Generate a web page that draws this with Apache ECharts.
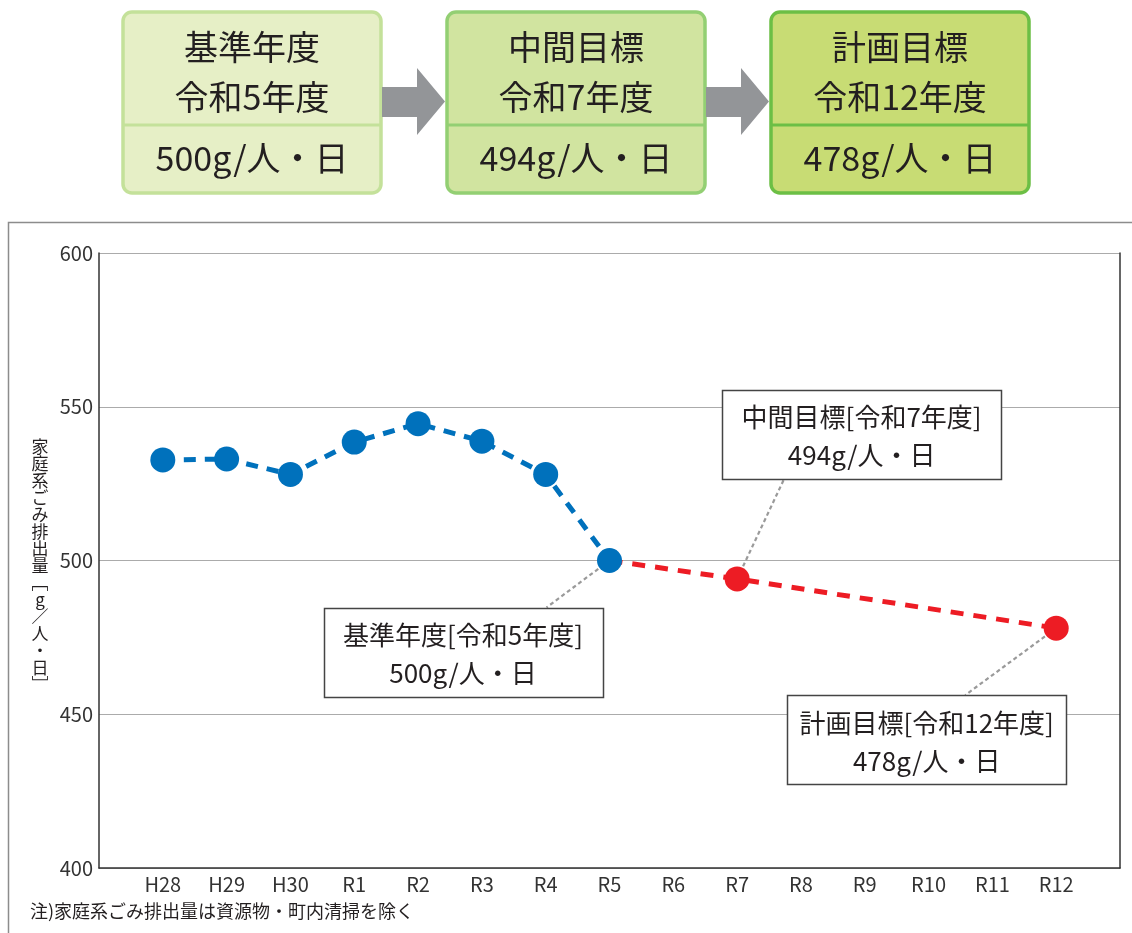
<!DOCTYPE html>
<html><head><meta charset="utf-8">
<script src="https://cdn.jsdelivr.net/npm/echarts@6/dist/echarts.min.js"></script>
<style>html,body{margin:0;padding:0;background:#fff}#c{width:1132px;height:933px}</style>
</head><body><div id="c"></div>
<script>
// ---- data ----
const categories = ['H28','H29','H30','R1','R2','R3','R4','R5','R6','R7','R8','R9','R10','R11','R12'];
const actualYears = ['H28','H29','H30','R1','R2','R3','R4','R5'];
const actualValues = [532.7, 533.0, 528.0, 538.5, 544.5, 538.8, 528.0, 500];
const targetYears = ['R5','R7','R12'];
const targetValues = [500, 494, 478];
const yTicks = [400, 450, 500, 550, 600];
const stageTitles = ['基準年度','中間目標','計画目標'];
const stageYears = ['令和5年度','令和7年度','令和12年度'];
const stageValues = ['500g/人・日','494g/人・日','478g/人・日'];
const calloutTitles = ['基準年度[令和5年度]','中間目標[令和7年度]','計画目標[令和12年度]'];
const calloutValues = ['500g/人・日','494g/人・日','478g/人・日'];
const yAxisName = '家庭系ごみ排出量﹇g／人・日﹈';
const note = '注)家庭系ごみ排出量は資源物・町内清掃を除く';

const FONT = '"Noto Sans CJK JP","Noto Sans",sans-serif';
const xData = [''].concat(categories, ['']);
const blueData = xData.map(c => { const i = actualYears.indexOf(c); return i >= 0 ? actualValues[i] : null; });
const redData = xData.map(c => {
  const i = targetYears.indexOf(c);
  if (i < 0) return null;
  return i === 0 ? {value: targetValues[i], symbol: 'none'} : targetValues[i];
});

const chart = echarts.init(document.getElementById('c'), null, {renderer: 'canvas'});
const option = {
  animation: false,
  backgroundColor: '#fff',
  grid: {left: 99, top: 253, right: 12, bottom: 65, containLabel: false},
  xAxis: {
    type: 'category', data: xData, boundaryGap: false,
    axisLine: {lineStyle: {color: '#333', width: 1.5}},
    axisTick: {show: false},
    axisLabel: {color: '#333', fontSize: 20, fontFamily: FONT, margin: 6, interval: 0},
    splitLine: {show: false}
  },
  yAxis: [{
    type: 'value', min: yTicks[0], max: yTicks[yTicks.length - 1], interval: 50,
    axisLine: {show: true, lineStyle: {color: '#333', width: 1.5}},
    axisTick: {show: false},
    axisLabel: {color: '#333', fontSize: 20, fontFamily: FONT, margin: 6},
    splitLine: {lineStyle: {color: '#ababab', width: 1.2}}
  }, {
    type: 'value', position: 'right', min: yTicks[0], max: yTicks[yTicks.length - 1], interval: 50,
    axisLine: {show: true, lineStyle: {color: '#333', width: 1.5}},
    axisTick: {show: false}, axisLabel: {show: false}, splitLine: {show: false}
  }],
  series: [{
    type: 'line', data: redData, connectNulls: true, z: 3,
    symbol: 'circle', symbolSize: 25,
    itemStyle: {color: '#ed1c24'},
    lineStyle: {color: '#ed1c24', width: 5, type: [13, 10]}
  }, {
    type: 'line', data: blueData, z: 4,
    symbol: 'circle', symbolSize: 25,
    itemStyle: {color: '#0071bc'},
    lineStyle: {color: '#0071bc', width: 5, type: [12, 9]}
  }]
};
chart.setOption(option);

// ---- decorations ----
const g = [];
// outer chart frame
g.push({type: 'rect', z: -10, shape: {x: 8.5, y: 222.5, width: 1200, height: 800},
  style: {fill: null, stroke: '#8c8c8c', lineWidth: 1.5}});

// top stage boxes
const boxX = [123, 447, 771], boxW = 258, boxY = 12, boxH = 181;
const boxFill = ['#e6efc6', '#d1e4a0', '#c8dc74'];
const boxStroke = ['#c4e19a', '#93cf73', '#6cbf45'];
for (let i = 0; i < 3; i++) {
  const x = boxX[i];
  g.push({type: 'rect', shape: {x: x, y: boxY, width: boxW, height: boxH, r: 9},
    style: {fill: boxFill[i], stroke: boxStroke[i], lineWidth: 3.5}});
  g.push({type: 'line', shape: {x1: x + 1, y1: 125, x2: x + boxW - 1, y2: 125},
    style: {stroke: boxStroke[i], lineWidth: 3}});
  g.push({type: 'text', x: x + boxW / 2, y: 72,
    style: {text: stageTitles[i] + '\n' + stageYears[i], fontSize: 34, fontFamily: FONT, fill: '#231f20',
      align: 'center', verticalAlign: 'middle', lineHeight: 50}});
  g.push({type: 'text', x: x + boxW / 2, y: 158,
    style: {text: stageValues[i], fontSize: 34, fontFamily: FONT, fill: '#231f20',
      align: 'center', verticalAlign: 'middle'}});
  if (i < 2) {
    const x0 = x + boxW + 1, x2 = boxX[i + 1] - 2, x1 = x2 - 28;
    g.push({type: 'polygon', shape: {points: [[x0, 87], [x1, 87], [x1, 68], [x2, 101.5], [x1, 135], [x1, 117], [x0, 117]]},
      style: {fill: '#939598'}});
  }
}

// y axis name (vertical)
g.push({type: 'text', x: 40, y: 438,
  style: {text: Array.from(yAxisName).join('\n'), fontSize: 17, lineHeight: 17, fontFamily: FONT, fill: '#231f20',
    align: 'center', verticalAlign: 'top'}});
// note
g.push({type: 'text', x: 30, y: 911,
  style: {text: note, fontSize: 18, fontFamily: FONT, fill: '#231f20', align: 'left', verticalAlign: 'middle'}});

// callouts anchored on target points
const calloutYear = ['R5', 'R7', 'R12'];
const calloutVal = [500, 494, 478];
const boxOff = [[-286, 47], [-15, -189], [-269, 67]];   // box top-left relative to point
const leadOff = [[-63, 47], [47, 100 - 189 + 0], [-91, 67]];
const cw = 279, ch = 89;
for (let i = 0; i < 3; i++) {
  const p = chart.convertToPixel({xAxisIndex: 0, yAxisIndex: 0}, [xData.indexOf(calloutYear[i]), calloutVal[i]]);
  const bx = p[0] + boxOff[i][0], by = p[1] + boxOff[i][1];
  const lx = i === 1 ? p[0] + 47 : p[0] + leadOff[i][0];
  const ly = i === 1 ? by + ch : by;
  g.push({type: 'line', z: 1, shape: {x1: p[0], y1: p[1], x2: lx, y2: ly},
    style: {stroke: '#9a9a9a', lineWidth: 2.2, lineDash: [4, 3]}});
  g.push({type: 'rect', z: 10, shape: {x: Math.round(bx) + 0.5, y: Math.round(by) + 0.5, width: cw, height: ch},
    style: {fill: '#fff', stroke: '#444', lineWidth: 1.5}});
  g.push({type: 'text', z: 11, x: bx + cw / 2, y: by + ch / 2 + 2,
    style: {text: calloutTitles[i] + '\n' + calloutValues[i], fontSize: 26, lineHeight: 38, fontFamily: FONT,
      fill: '#231f20', align: 'center', verticalAlign: 'middle'}});
}
chart.setOption({graphic: {elements: g}});
</script>
</body></html>
